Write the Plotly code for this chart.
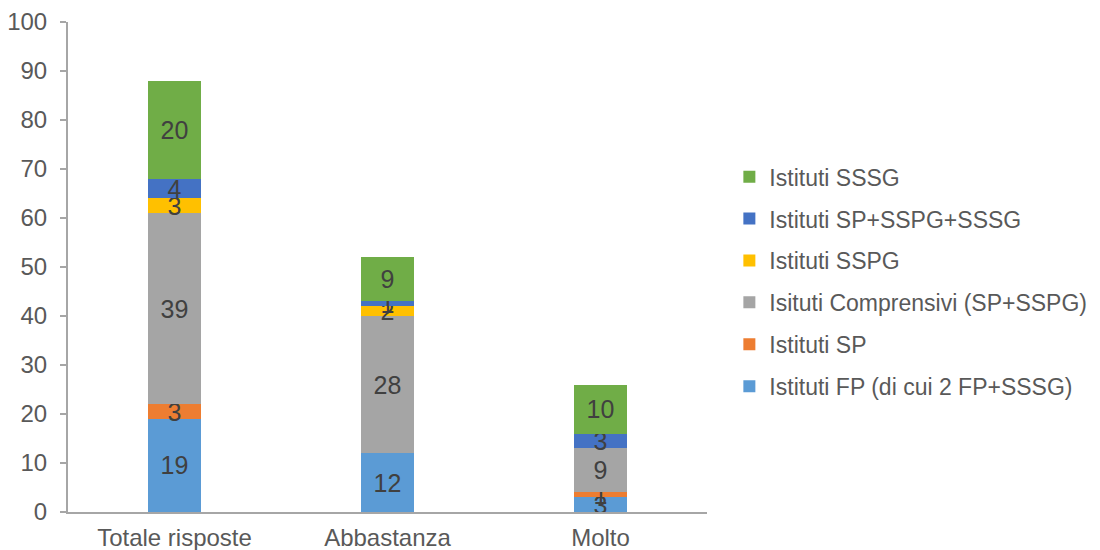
import plotly.graph_objects as go

categories = ["Totale risposte", "Abbastanza", "Molto"]
series_names = [
    "Istituti FP (di cui 2 FP+SSSG)",
    "Istituti SP",
    "Isituti Comprensivi (SP+SSPG)",
    "Istituti SSPG",
    "Istituti SP+SSPG+SSSG",
    "Istituti SSSG",
]
fp = [19, 12, 3]
sp = [3, 0, 1]
comprensivi = [39, 28, 9]
sspg = [3, 2, 0]
sp_sspg_sssg = [4, 1, 3]
sssg = [20, 9, 10]
y_ticks = list(range(0, 101, 10))

values = [fp, sp, comprensivi, sspg, sp_sspg_sssg, sssg]
colors = ["#5B9BD5", "#ED7D31", "#A5A5A5", "#FFC000", "#4472C4", "#70AD47"]
FONT = "Liberation Sans, Arial, sans-serif"

fig = go.Figure()
n = len(series_names)
for i, (name, vals, col) in enumerate(zip(series_names, values, colors)):
    fig.add_trace(go.Bar(
        x=categories, y=vals, name=name,
        marker=dict(color=col, line=dict(width=0)),
        text=[str(v) if v else "" for v in vals],
        textposition="inside", insidetextanchor="middle", textangle=0,
        textfont=dict(size=25, color="#404040", family=FONT),
        constraintext="none", cliponaxis=False,
        legendgroup=f"g{i}", legendrank=n - i,
    ))

fig.update_layout(
    barmode="stack", bargap=0.755,
    width=1092, height=542,
    margin=dict(l=60, r=393, t=14, b=38, autoexpand=False),
    paper_bgcolor="white", plot_bgcolor="white",
    font=dict(family=FONT, color="#595959", size=22),
    uniformtext=dict(minsize=25, mode="show"),
    legend=dict(
        x=1.035, y=0.47, xanchor="left", yanchor="middle",
        traceorder="grouped", tracegroupgap=9,
        font=dict(size=23, color="#595959", family=FONT),
        itemwidth=30,
    ),
    showlegend=True,
)
fig.update_yaxes(
    range=[0, 100], tickvals=y_ticks, showgrid=False, automargin=False,
    showline=True, linecolor="#A6A6A6", linewidth=2,
    ticks="outside", ticklen=6, tickcolor="#A6A6A6", tickwidth=2,
    ticklabelstandoff=8, zeroline=False,
    tickfont=dict(size=24, color="#595959", family=FONT),
)
fig.update_xaxes(
    showgrid=False, showline=True, linecolor="#A6A6A6", linewidth=2,
    automargin=False, ticks="", ticklabelstandoff=3,
    tickfont=dict(size=24, color="#595959", family=FONT),
)

fig.write_html("out.html")
